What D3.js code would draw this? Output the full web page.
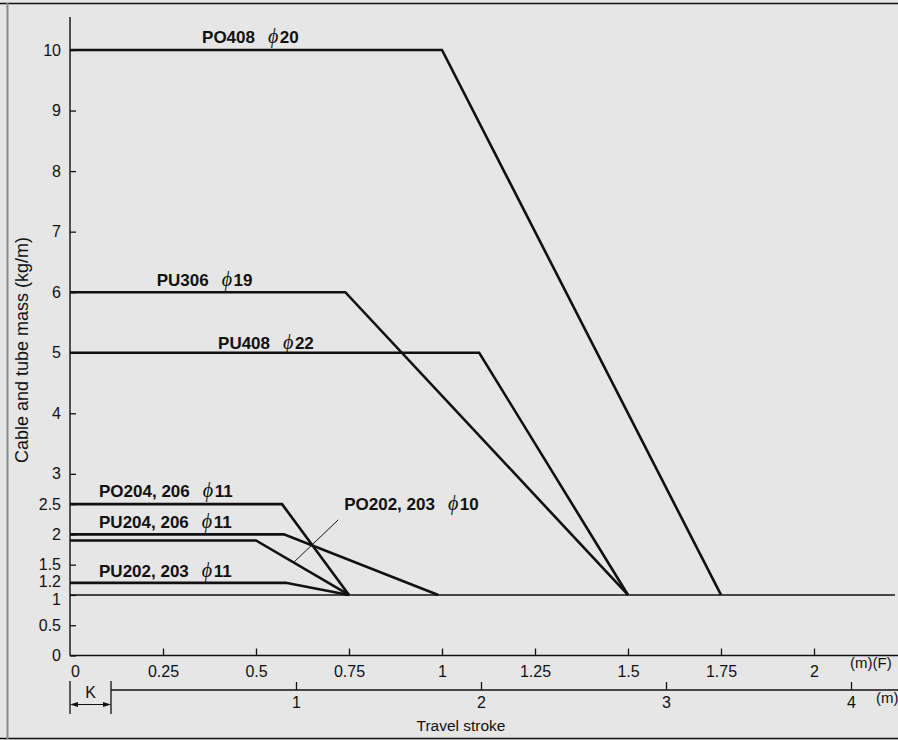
<!DOCTYPE html>
<html>
<head>
<meta charset="utf-8">
<script src="https://cdn.jsdelivr.net/npm/d3@7"></script>
<style>
  html, body { margin: 0; padding: 0; background: #e6e6e6; }
  svg { display: block; }
  text { font-family: "Liberation Sans", Arial, Helvetica, sans-serif; fill: #111; }
</style>
</head>
<body>
<svg id="chart" width="898" height="740"></svg>
<script>
// ---------- data ----------
const yTicks = [0, 0.5, 1, 1.2, 1.5, 2, 2.5, 3, 4, 5, 6, 7, 8, 9, 10];
const xTicks = [0, 0.25, 0.5, 0.75, 1, 1.25, 1.5, 1.75, 2];
const strokeTicks = [1, 2, 3, 4];

const seriesNames = ["PO408", "PU306", "PU408", "PO204, 206", "PU204, 206", "PO202, 203", "PU202, 203"];
const seriesDiam  = ["20", "19", "22", "11", "11", "10", "11"];
const plateauMass = [10, 6, 5, 2.5, 2.0, 1.9, 1.2];
const kneeF       = [1.0, 0.74, 1.1, 0.57, 0.575, 0.5, 0.58];
const endF        = [1.75, 1.5, 1.5, 0.75, 0.99, 0.75, 0.75];
const baseMass = 1;

// label anchors (data units: F, kg/m)
const labelF    = [0.355, 0.233, 0.398, 0.078, 0.078, 0.737, 0.078];
const labelMass = [10.12, 6.10, 5.07, 2.61, 2.10, 2.41, 1.29];

// leader line for PO202, 203 (data units)
const leaderF    = [0.600, 0.721];
const leaderMass = [1.53, 2.24];

// ---------- drawing ----------
const W = 898, H = 740;
const svg = d3.select("#chart");

svg.append("rect").attr("width", W).attr("height", H).attr("fill", "#e6e6e6");

// frame
svg.append("line").attr("x1", 0).attr("x2", W).attr("y1", 3.5).attr("y2", 3.5)
  .attr("stroke", "#111").attr("stroke-width", 1.6);
svg.append("line").attr("x1", 0).attr("x2", W).attr("y1", 738.5).attr("y2", 738.5)
  .attr("stroke", "#111").attr("stroke-width", 1.6);
svg.append("line").attr("x1", 7.5).attr("x2", 7.5).attr("y1", 3).attr("y2", 739)
  .attr("stroke", "#8a8a8a").attr("stroke-width", 2);

const x = d3.scaleLinear().domain([0, 2]).range([70, 814]);
const y = d3.scaleLinear().domain([0, 10]).range([655.5, 50]);
const s = d3.scaleLinear().domain([0, 4]).range([111, 851]);

const fmt = d => String(d);
const tickFont = 16;

// y axis
const yAxisG = svg.append("g").attr("transform", `translate(${x(0)},0)`)
  .call(d3.axisLeft(y).tickValues(yTicks).tickFormat(fmt)
    .tickSizeInner(-6).tickSizeOuter(0).tickPadding(9));
yAxisG.select(".domain").remove();
yAxisG.selectAll(".tick line").attr("stroke", "#111").attr("stroke-width", 1.3);
yAxisG.selectAll("text").attr("font-size", tickFont).attr("fill", "#111")
  .style("font-family", "'Liberation Sans', Arial, sans-serif")
  .attr("dy", d => d === 1 ? "0.62em" : d === 1.2 ? "0.2em" : "0.32em");
svg.append("line").attr("x1", x(0)).attr("x2", x(0)).attr("y1", y(0)).attr("y2", 17)
  .attr("stroke", "#111").attr("stroke-width", 1.4);

// x axis (F)
const xAxisG = svg.append("g").attr("transform", `translate(0,${y(0)})`)
  .call(d3.axisBottom(x).tickValues(xTicks).tickFormat(fmt)
    .tickSizeInner(-7).tickSizeOuter(0).tickPadding(0));
xAxisG.select(".domain").remove();
xAxisG.selectAll(".tick line").attr("stroke", "#111").attr("stroke-width", 1.3)
  .attr("opacity", d => d === 0 ? 0 : 1);
xAxisG.selectAll("text").attr("font-size", tickFont).attr("fill", "#111")
  .style("font-family", "'Liberation Sans', Arial, sans-serif")
  .attr("dy", null).attr("y", 21).attr("dx", d => d === 0 ? 5 : 0);
svg.append("line").attr("x1", x(0)).attr("x2", W).attr("y1", y(0)).attr("y2", y(0))
  .attr("stroke", "#111").attr("stroke-width", 1.4);
svg.append("text").attr("x", 850).attr("y", 668).attr("font-size", 15).text("(m)(F)");

// travel stroke axis
const sY = 690;
const sAxisG = svg.append("g").attr("transform", `translate(0,${sY})`)
  .call(d3.axisBottom(s).tickValues(strokeTicks).tickFormat(fmt)
    .tickSizeInner(-8).tickSizeOuter(0).tickPadding(0));
sAxisG.select(".domain").remove();
sAxisG.selectAll(".tick line").attr("stroke", "#111").attr("stroke-width", 1.3);
sAxisG.selectAll("text").attr("font-size", tickFont).attr("fill", "#111")
  .style("font-family", "'Liberation Sans', Arial, sans-serif")
  .attr("dy", null).attr("y", 18);
svg.append("line").attr("x1", s(0)).attr("x2", W).attr("y1", sY).attr("y2", sY)
  .attr("stroke", "#111").attr("stroke-width", 1.4);
svg.append("text").attr("x", 876).attr("y", 703).attr("font-size", 15).text("(m)");
svg.append("text").attr("x", 461).attr("y", 731).attr("font-size", 15.5)
  .attr("text-anchor", "middle").text("Travel stroke");

// K offset marker
[x(0), s(0)].forEach(px => {
  svg.append("line").attr("x1", px).attr("x2", px).attr("y1", 681).attr("y2", 714)
    .attr("stroke", "#111").attr("stroke-width", 1.3);
});
const kY = 704.5;
svg.append("line").attr("x1", x(0) + 2).attr("x2", s(0) - 2).attr("y1", kY).attr("y2", kY)
  .attr("stroke", "#111").attr("stroke-width", 1.2);
svg.append("path")
  .attr("d", `M${x(0)},${kY} l8,-2.6 l0,5.2 Z M${s(0)},${kY} l-8,-2.6 l0,5.2 Z`)
  .attr("fill", "#111");
svg.append("text").attr("x", (x(0) + s(0)) / 2).attr("y", 698).attr("font-size", 16)
  .attr("text-anchor", "middle").text("K");

// y axis label
svg.append("text")
  .attr("transform", "translate(28,350) rotate(-90)")
  .attr("text-anchor", "middle").attr("font-size", 18)
  .text("Cable and tube mass (kg/m)");

// reference line at 1 kg/m
svg.append("line").attr("x1", x(0)).attr("x2", 895).attr("y1", y(baseMass)).attr("y2", y(baseMass))
  .attr("stroke", "#111").attr("stroke-width", 1.4);

// series
const line = d3.line().x(d => x(d[0])).y(d => y(d[1]));
const series = seriesNames.map((n, i) => ({
  name: n, diam: seriesDiam[i],
  pts: [[0, plateauMass[i]], [kneeF[i], plateauMass[i]], [endF[i], baseMass]],
  lx: labelF[i], ly: labelMass[i]
}));

svg.append("g").selectAll("path").data(series).join("path")
  .attr("d", d => line(d.pts))
  .attr("fill", "none").attr("stroke", "#111").attr("stroke-width", 2.6)
  .attr("stroke-linejoin", "miter");

// leader line
svg.append("line")
  .attr("x1", x(leaderF[0])).attr("y1", y(leaderMass[0]))
  .attr("x2", x(leaderF[1])).attr("y2", y(leaderMass[1]))
  .attr("stroke", "#111").attr("stroke-width", 1);

// labels
const lbl = svg.append("g").selectAll("text").data(series).join("text")
  .attr("x", d => x(d.lx)).attr("y", d => y(d.ly))
  .attr("font-size", 17).attr("font-weight", "bold");
lbl.append("tspan").text(d => d.name);
lbl.append("tspan").attr("dx", 13)
  .style("font-family", "'Liberation Serif', 'DejaVu Serif', serif")
  .attr("font-style", "italic").attr("font-weight", "normal")
  .attr("font-size", 20)
  .text("\u03D5");
lbl.append("tspan").attr("dx", 1.5).text(d => d.diam);
</script>
</body>
</html>
